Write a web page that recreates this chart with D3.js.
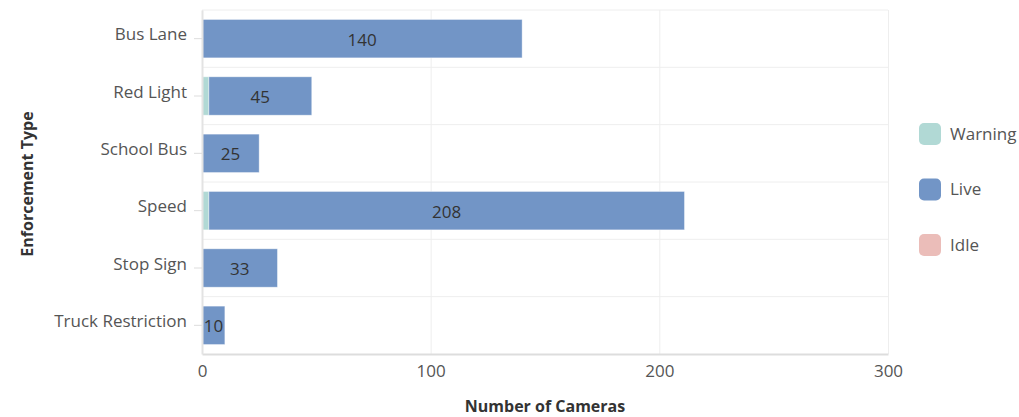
<!DOCTYPE html>
<html>
<head>
<meta charset="utf-8">
<script src="https://cdn.jsdelivr.net/npm/d3@7"></script>
<style>
  body { margin: 0; background: #fff; font-family: "Open Sans", sans-serif; }
  .grid line { stroke: #eeeeee; }
  .grid path { display: none; }
</style>
</head>
<body>
<div id="chart"></div>
<script>
// data
var categories = ["Bus Lane", "Red Light", "School Bus", "Speed", "Stop Sign", "Truck Restriction"];
var warning = [0, 3, 0, 3, 0, 0];
var live = [140, 45, 25, 208, 33, 10];
var idle = [0, 0, 0, 0, 0, 0];
var xTicks = [0, 100, 200, 300];
var seriesNames = ["Warning", "Live", "Idle"];
var seriesColors = ["#b1d9d5", "#7295c6", "#ebbdb9"];

function renderPlot() {
  var svgWidth = 1019, svgHeight = 417;
  var margin = { top: 10, right: 131, bottom: 63, left: 202 };
  var width = svgWidth - margin.left - margin.right;
  var height = svgHeight - margin.top - margin.bottom;

  var svg = d3.select("#chart").append("svg")
    .attr("width", svgWidth)
    .attr("height", svgHeight);

  var chartGroup = svg.append("g")
    .attr("transform", `translate(${margin.left}, ${margin.top})`);

  var rows = categories.map(function (c, i) {
    return { cat: c, Warning: warning[i], Live: live[i], Idle: idle[i] };
  });

  var stack = d3.stack().keys(seriesNames)(rows);

  var xScale = d3.scaleLinear().domain([0, 300]).range([0, width]);
  var yScale = d3.scaleBand().domain(categories).range([0, height]).paddingInner(0.33).paddingOuter(0.165);
  var yBand = d3.scaleBand().domain(categories).range([0, height]);
  var color = d3.scaleOrdinal().domain(seriesNames).range(seriesColors);

  // vertical grid
  chartGroup.append("g")
    .attr("class", "grid")
    .call(d3.axisBottom(xScale).tickValues(xTicks).tickSize(height).tickFormat(""));

  // horizontal band separators
  chartGroup.append("g").selectAll("line")
    .data(categories)
    .enter().append("line")
    .attr("x1", 0).attr("x2", width)
    .attr("y1", d => yBand(d)).attr("y2", d => yBand(d))
    .attr("stroke", "#eeeeee");

  // bars
  chartGroup.append("g").selectAll("g")
    .data(stack)
    .enter().append("g")
    .attr("fill", d => color(d.key))
    .selectAll("rect")
    .data(d => d)
    .enter().append("rect")
    .attr("x", d => xScale(d[0]))
    .attr("y", d => yScale(d.data.cat))
    .attr("width", d => Math.max(0, xScale(d[1]) - xScale(d[0])))
    .attr("height", yScale.bandwidth())
    .attr("stroke", "#ffffff")
    .attr("stroke-opacity", 0.5)
    .attr("stroke-width", 0.8);

  // value labels on Live segment
  var liveLayer = stack[1];
  chartGroup.append("g").selectAll("text")
    .data(liveLayer)
    .enter().append("text")
    .attr("x", d => (xScale(d[0]) + xScale(d[1])) / 2)
    .attr("y", d => yScale(d.data.cat) + yScale.bandwidth() / 2 + 1)
    .attr("dy", "0.35em")
    .attr("text-anchor", "middle")
    .attr("font-size", "17px")
    .attr("fill", "#333333")
    .text(d => d.data.Live);

  // x axis
  var xAxis = chartGroup.append("g")
    .attr("transform", `translate(0, ${height})`)
    .call(d3.axisBottom(xScale).tickValues(xTicks).tickSize(0).tickPadding(11));
  xAxis.select(".domain").attr("stroke", "#dddddd").attr("stroke-width", 2);
  xAxis.selectAll("text").attr("font-size", "17px").attr("fill", "#555555").attr("font-family", "Open Sans");

  // y axis
  var yAxis = chartGroup.append("g")
    .call(d3.axisLeft(yBand).tickSize(8).tickPadding(7).tickSizeOuter(0));
  yAxis.select(".domain").attr("stroke", "#e3e3e3").attr("stroke-width", 2);
  yAxis.selectAll(".tick line").attr("stroke", "#dddddd");
  yAxis.selectAll("text").attr("font-size", "17px").attr("fill", "#555555")
    .attr("font-family", "Open Sans").attr("dy", "0.1em");

  // axis titles
  svg.append("text")
    .attr("x", margin.left + width / 2)
    .attr("y", 412)
    .attr("text-anchor", "middle")
    .attr("font-size", "16px")
    .attr("font-weight", "bold")
    .attr("fill", "#333333")
    .text("Number of Cameras");

  svg.append("text")
    .attr("transform", "rotate(-90)")
    .attr("x", -184)
    .attr("y", 33)
    .attr("text-anchor", "middle")
    .attr("font-size", "16px")
    .attr("font-weight", "bold")
    .attr("fill", "#333333")
    .text("Enforcement Type");

  // legend
  var legend = svg.append("g")
    .attr("transform", "translate(919, 123)");
  var items = legend.selectAll("g")
    .data(seriesNames)
    .enter().append("g")
    .attr("transform", (d, i) => `translate(0, ${i * 55.5})`);
  items.append("rect")
    .attr("width", 22).attr("height", 22)
    .attr("rx", 5)
    .attr("fill", d => color(d));
  items.append("text")
    .attr("x", 31).attr("y", 11)
    .attr("dy", "0.35em")
    .attr("font-size", "17px")
    .attr("fill", "#555555")
    .text(d => d);
}

renderPlot();
</script>
</body>
</html>
